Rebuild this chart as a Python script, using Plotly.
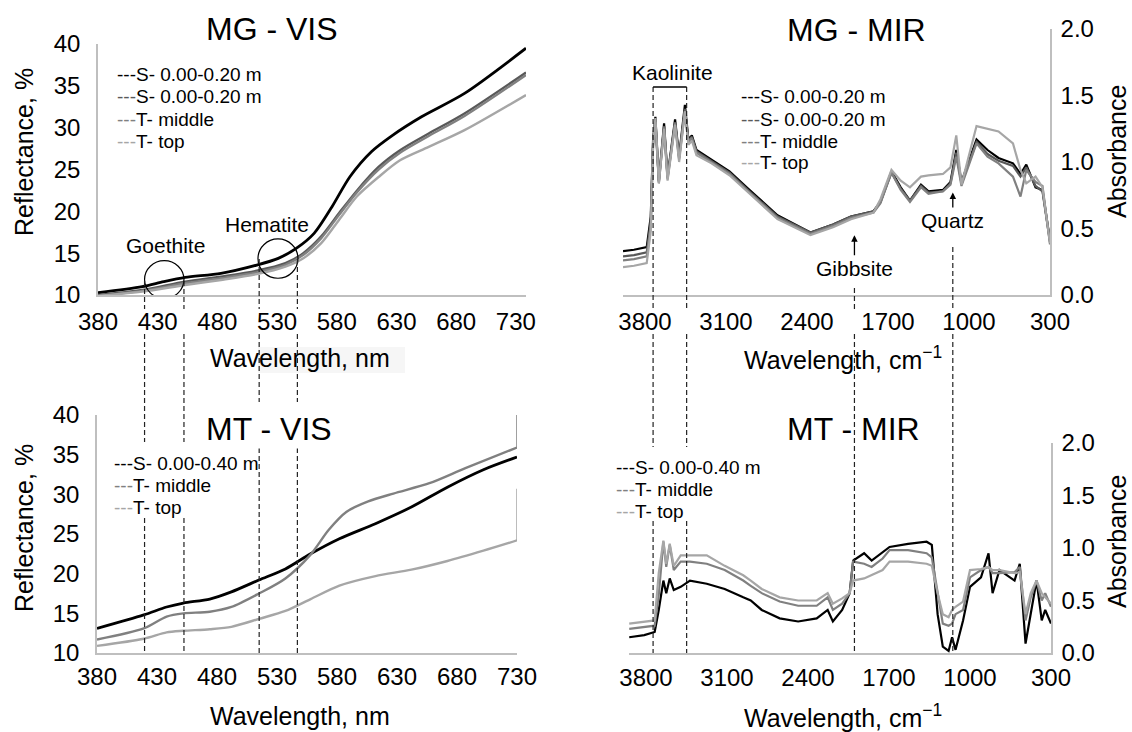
import plotly.graph_objects as go

W, H = 1132, 732
FONT = "Liberation Sans, Arial, sans-serif"
C_S1, C_S2, C_MID, C_TOP = "#000000", "#595959", "#808080", "#a6a6a6"

# ---------------- data ----------------
vis_ticks = [380, 430, 480, 530, 580, 630, 680, 730]
mir_ticks = [3800, 3100, 2400, 1700, 1000, 300]

# MG - VIS (reflectance, %)
mg_vis_wl_s1 = [380, 417, 435, 453, 483, 513, 531, 546, 561, 576, 591, 609, 627, 651, 687, 738.5]
mg_vis_s1 = [10.27, 10.99, 11.59, 12.1, 12.59, 13.58, 14.38, 15.57, 17.37, 20.55, 24.14, 27.13, 29.12, 31.31, 34.1, 39.5]
mg_vis_wl = [380, 417, 453, 483, 513, 537, 552, 567, 582, 597, 615, 633, 657, 687, 738.5]
mg_vis_s2 = [10.0, 10.6, 11.6, 12.2, 12.9, 13.8, 15.0, 17.0, 19.8, 22.5, 25.3, 27.3, 29.3, 31.7, 36.6]
mg_vis_mid = [9.9, 10.5, 11.4, 12.0, 12.7, 13.6, 14.8, 16.8, 19.6, 22.3, 25.0, 27.0, 29.0, 31.4, 36.3]
mg_vis_top = [9.9, 10.4, 11.2, 11.8, 12.5, 13.4, 14.4, 16.2, 19.0, 21.8, 24.1, 26.1, 27.7, 29.7, 33.9]
mg_vis_names = ["S- 0.00-0.20 m", "S- 0.00-0.20 m", "T- middle", "T- top"]

# MT - VIS
mt_vis_wl = [380, 419, 438, 452, 474, 492, 515, 537, 558, 582, 612, 642, 672, 702, 730]
mt_vis_s = [13.1, 14.8, 15.8, 16.3, 16.8, 17.7, 19.2, 20.6, 22.5, 24.4, 26.3, 28.4, 30.9, 33.1, 34.7]
mt_vis_top = [10.9, 11.8, 12.6, 12.8, 13.0, 13.3, 14.3, 15.3, 16.8, 18.5, 19.7, 20.5, 21.6, 22.9, 24.2]
mt_vis_wl_mid = [380, 419, 438, 452, 474, 492, 515, 537, 558, 573, 588, 606, 627, 657, 687, 730]
mt_vis_mid = [11.7, 13.1, 14.6, 15.0, 15.2, 15.8, 17.5, 19.4, 22.4, 25.5, 27.8, 29.1, 30.1, 31.4, 33.3, 35.9]
mt_vis_end_wl = [730, 730]
mt_vis_mid_end = [35.9, 40.0]
mt_vis_top_end = [24.2, 30.7]
mt_names = ["S- 0.00-0.40 m", "T- middle", "T- top"]

# MG - MIR (absorbance)
mg_mir_wn = [3990, 3895, 3785, 3750, 3730, 3710, 3680, 3635, 3605, 3540, 3505, 3455, 3425, 3395,
             3355, 3225, 3070, 2910, 2655, 2370, 2175, 2020, 1825, 1765, 1670, 1590, 1510, 1415,
             1350, 1225, 1160, 1110, 1065, 935, 840, 745, 620, 555, 505, 425, 365, 300]
mg_mir_s1 = [0.33, 0.34, 0.36, 0.59, 1.17, 1.34, 0.86, 1.29, 0.89, 1.32, 1.04, 1.43, 1.17, 1.20,
             1.09, 1.02, 0.93, 0.80, 0.60, 0.47, 0.53, 0.59, 0.63, 0.70, 0.93, 0.81, 0.71, 0.83,
             0.78, 0.79, 0.85, 1.09, 0.85, 1.17, 1.09, 1.03, 0.99, 0.91, 0.98, 0.81, 0.79, 0.41]
mg_mir_s2 = [0.29, 0.30, 0.32, 0.55, 1.15, 1.32, 0.85, 1.27, 0.88, 1.30, 1.03, 1.40, 1.16, 1.19,
             1.08, 1.01, 0.92, 0.79, 0.59, 0.47, 0.53, 0.59, 0.63, 0.70, 0.92, 0.80, 0.71, 0.82,
             0.77, 0.78, 0.84, 1.07, 0.84, 1.15, 1.06, 1.01, 0.97, 0.89, 0.96, 0.82, 0.78, 0.40]
mg_mir_mid = [0.26, 0.27, 0.29, 0.52, 1.13, 1.30, 0.84, 1.26, 0.87, 1.29, 1.02, 1.38, 1.15, 1.18,
              1.07, 1.00, 0.91, 0.78, 0.58, 0.46, 0.52, 0.58, 0.62, 0.69, 0.92, 0.79, 0.70, 0.81,
              0.76, 0.78, 0.83, 1.04, 0.82, 1.14, 1.04, 0.99, 0.89, 0.74, 0.94, 0.85, 0.82, 0.38]
mg_mir_top = [0.21, 0.22, 0.24, 0.48, 1.12, 1.33, 0.84, 1.25, 0.86, 1.28, 1.00, 1.38, 1.13, 1.16,
              1.05, 0.99, 0.90, 0.77, 0.57, 0.45, 0.51, 0.57, 0.62, 0.72, 0.94, 0.86, 0.81, 0.89,
              0.90, 0.91, 0.96, 1.20, 0.83, 1.27, 1.25, 1.23, 1.14, 0.94, 0.84, 0.89, 0.81, 0.39]

# MT - MIR
mt_mir_wn = [3945, 3815, 3725, 3690, 3650, 3625, 3595, 3560, 3500, 3420, 3275, 3120, 2960, 2895,
             2800, 2645, 2485, 2325, 2230, 2185, 2105, 2040, 2010, 1915, 1850, 1755, 1695, 1535,
             1375, 1330, 1280, 1235, 1185, 1155, 1125, 1060, 1000, 905, 840, 805, 745, 615, 570,
             520, 475, 425, 380, 350, 300]
mt_mir_s = [0.15, 0.17, 0.20, 0.41, 0.69, 0.57, 0.71, 0.60, 0.63, 0.69, 0.66, 0.61, 0.53, 0.50,
            0.41, 0.33, 0.30, 0.33, 0.41, 0.30, 0.41, 0.57, 0.88, 0.95, 0.88, 0.96, 1.01, 1.04,
            1.06, 1.03, 0.37, 0.06, 0.02, 0.15, 0.03, 0.31, 0.63, 0.72, 0.95, 0.57, 0.79, 0.69, 0.85,
            0.09, 0.37, 0.69, 0.31, 0.41, 0.28]
mt_mir_mid = [0.23, 0.25, 0.26, 0.55, 1.06, 0.82, 1.03, 0.79, 0.87, 0.87, 0.85, 0.79, 0.69, 0.64,
              0.57, 0.49, 0.45, 0.45, 0.53, 0.41, 0.47, 0.57, 0.87, 0.85, 0.82, 0.90, 0.98, 0.98,
              0.95, 0.91, 0.57, 0.28, 0.26, 0.28, 0.37, 0.41, 0.72, 0.79, 0.82, 0.76, 0.76, 0.77, 0.82,
              0.31, 0.53, 0.69, 0.50, 0.57, 0.44]
mt_mir_top = [0.28, 0.30, 0.31, 0.76, 1.07, 0.85, 1.04, 0.83, 0.93, 0.93, 0.93, 0.83, 0.74, 0.69,
              0.61, 0.53, 0.50, 0.50, 0.57, 0.47, 0.52, 0.57, 0.69, 0.71, 0.74, 0.79, 0.87, 0.87,
              0.85, 0.83, 0.57, 0.37, 0.34, 0.41, 0.44, 0.49, 0.79, 0.80, 0.82, 0.79, 0.79, 0.76, 0.77,
              0.37, 0.57, 0.69, 0.57, 0.53, 0.47]

# mineral marks
goethite_nm = [419, 452]
hematite_nm = [515, 547]
kaolinite_wn = [3730, 3440]
gibbsite_wn = 1990
quartz_wn = 1140
goethite_circle = dict(x=[419, 452], y=[9.6, 14.1])
hematite_circle = dict(x=[514, 547.5], y=[12.0, 16.7])

# ---------------- figure ----------------
def px(x):
    return x / W


def py(y):
    return 1 - y / H


fig = go.Figure()


def add(x, y, color, xa, ya, width, shape="linear"):
    fig.add_trace(go.Scatter(
        x=x, y=y, mode="lines",
        line=dict(color=color, width=width, shape=shape, smoothing=0.8 if shape == "spline" else None),
        xaxis=xa, yaxis=ya, showlegend=False, hoverinfo="skip"))


add(mg_vis_wl_s1, mg_vis_s1, C_S1, "x", "y", 2.8, "spline")
add(mg_vis_wl, mg_vis_s2, C_S2, "x", "y", 2.4, "spline")
add(mg_vis_wl, mg_vis_mid, C_MID, "x", "y", 2.4, "spline")
add(mg_vis_wl, mg_vis_top, C_TOP, "x", "y", 2.4, "spline")

add(mg_mir_wn, mg_mir_s1, C_S1, "x2", "y2", 2.2)
add(mg_mir_wn, mg_mir_s2, C_S2, "x2", "y2", 2.2)
add(mg_mir_wn, mg_mir_mid, C_MID, "x2", "y2", 2.2)
add(mg_mir_wn, mg_mir_top, C_TOP, "x2", "y2", 2.2)

add(mt_vis_wl, mt_vis_s, C_S1, "x3", "y3", 2.8, "spline")
add(mt_vis_wl_mid, mt_vis_mid, C_MID, "x3", "y3", 2.4, "spline")
add(mt_vis_wl, mt_vis_top, C_TOP, "x3", "y3", 2.4, "spline")
add(mt_vis_end_wl, mt_vis_mid_end, C_MID, "x3", "y3", 1.5)
add(mt_vis_end_wl, mt_vis_top_end, C_TOP, "x3", "y3", 1.5)

add(mt_mir_wn, mt_mir_s, C_S1, "x4", "y4", 2.2)
add(mt_mir_wn, mt_mir_mid, C_MID, "x4", "y4", 2.2)
add(mt_mir_wn, mt_mir_top, C_TOP, "x4", "y4", 2.2)

tickfont = dict(family=FONT, size=24, color="black")
ax = dict(showgrid=False, zeroline=False, ticks="", showline=True, linecolor="#bfbfbf",
          linewidth=1.5, tickfont=tickfont, fixedrange=True)

fig.update_layout(
    template="none",
    width=W, height=H, autosize=False,
    margin=dict(l=0, r=0, t=0, b=0),
    paper_bgcolor="white", plot_bgcolor="white",
    xaxis=dict(domain=[px(98), px(526)], range=[380, 738.5], tickvals=vis_ticks, anchor="y",
               ticklabelstandoff=4, **ax),
    yaxis=dict(domain=[py(295), py(44)], range=[10, 40], dtick=5, anchor="x",
               ticklabelstandoff=11, **ax),
    xaxis2=dict(domain=[px(623), px(1050)], range=[3990, 300], tickvals=mir_ticks, anchor="y2",
                ticklabelstandoff=4, **ax),
    yaxis2=dict(domain=[py(295), py(29)], range=[0, 2], dtick=0.5, tickformat=".1f", side="right",
                anchor="x2", ticklabelstandoff=4, **ax),
    xaxis3=dict(domain=[px(97), px(517)], range=[380, 730], tickvals=vis_ticks, anchor="y3",
                ticklabelstandoff=1, **ax),
    yaxis3=dict(domain=[py(653), py(415)], range=[10, 40], dtick=5, anchor="x3",
                ticklabelstandoff=11, **ax),
    xaxis4=dict(domain=[px(629), px(1051)], range=[3947, 300], tickvals=mir_ticks, anchor="y4",
                ticklabelstandoff=2, **ax),
    yaxis4=dict(domain=[py(653), py(443)], range=[0, 2], dtick=0.5, tickformat=".1f", side="right",
                anchor="x4", ticklabelstandoff=4, **ax),
)


def ann(text, x, y, size, **kw):
    d = dict(text=text, x=px(x), y=py(y), xref="paper", yref="paper", showarrow=False,
             font=dict(family=FONT, size=size, color="black"), xanchor="center", yanchor="middle")
    d.update(kw)
    fig.add_annotation(**d)


# panel titles
ann("MG - VIS", 272, 29, 32)
ann("MG - MIR", 856, 30, 32)
ann("MT - VIS", 269, 429, 32, bgcolor="white")
ann("MT - MIR", 853, 429, 32)

# axis titles
ann("Reflectance, %", 24, 152, 25, textangle=-90)
ann("Reflectance, %", 24, 528, 25, textangle=-90)
ann("Absorbance", 1117, 152, 25, textangle=-90)
ann("Absorbance", 1117, 542, 25, textangle=-90)
ann("Wavelength, nm", 300, 358, 25)
ann("Wavelength, nm", 300, 716, 25)
ann("Wavelength, cm<sup>\u22121</sup>", 843, 358, 25)
ann("Wavelength, cm<sup>\u22121</sup>", 843, 716, 25)


# legends
def legend(names, colors, x, ys):
    for n, c, y in zip(names, colors, ys):
        ann('<span style="color:%s">---</span>%s' % (c, n), x, y, 19, xanchor="left")


legend(mg_vis_names, [C_S1, C_S2, C_MID, C_TOP], 115, [74, 97, 119, 141])
legend(mg_vis_names, [C_S1, C_S2, C_MID, C_TOP], 739, [97, 119, 141, 163])
legend(mt_names, [C_S1, C_MID, C_TOP], 112, [463, 485, 507])
legend(mt_names, [C_S1, C_MID, C_TOP], 614, [467, 489, 511])

# mineral labels
ann("Goethite", 166, 245, 21)
ann("Hematite", 267, 224, 21)
ann("Kaolinite", 672, 72, 21)
arrow = dict(showarrow=True, arrowhead=2, arrowsize=1, arrowwidth=1.3, arrowcolor="black",
             xref="x2", yref="y2", ax=0, font=dict(family=FONT, size=21, color="black"))
fig.add_annotation(text="Gibbsite", x=gibbsite_wn, y=0.45, ay=33, **arrow)
fig.add_annotation(text="Quartz", x=quartz_wn, y=0.77, ay=28, **arrow)

# shapes
shapes = []
shapes.append(dict(type="rect", xref="paper", yref="paper", x0=px(258), x1=px(405), y0=py(373), y1=py(347),
                   fillcolor="#f6f6f6", line=dict(width=0), layer="below"))
for c in (goethite_circle, hematite_circle):
    shapes.append(dict(type="circle", xref="x", yref="y", x0=c["x"][0], x1=c["x"][1],
                       y0=c["y"][0], y1=c["y"][1], line=dict(color="black", width=1.2)))

dash = dict(color="#222222", width=1.2, dash="5px,3px")


def vline(xref, xv, segs):
    for a, b in segs:
        shapes.append(dict(type="line", xref=xref, yref="paper", x0=xv, x1=xv, y0=py(a), y1=py(b),
                           line=dash, layer="above"))


for v in goethite_nm:
    vline("x", v, [(281, 309), (334, 442), (518, 653)])
for v in hematite_nm:
    vline("x", v, [(259, 309), (334, 402), (448, 653)])
for v in kaolinite_wn:
    vline("x2", v, [(87, 309), (334, 447), (521, 653)])
vline("x2", gibbsite_wn, [(288, 309), (334, 653)])
vline("x2", quartz_wn, [(247, 309), (334, 653)])
shapes.append(dict(type="line", xref="x2", yref="paper", x0=kaolinite_wn[0], x1=kaolinite_wn[1],
                   y0=py(87), y1=py(87), line=dict(color="black", width=1.3)))

fig.update_layout(shapes=shapes)
fig.write_html("out.html", config={"displayModeBar": False},
               post_script="document.body.style.margin='0';document.body.style.overflow='hidden';")
